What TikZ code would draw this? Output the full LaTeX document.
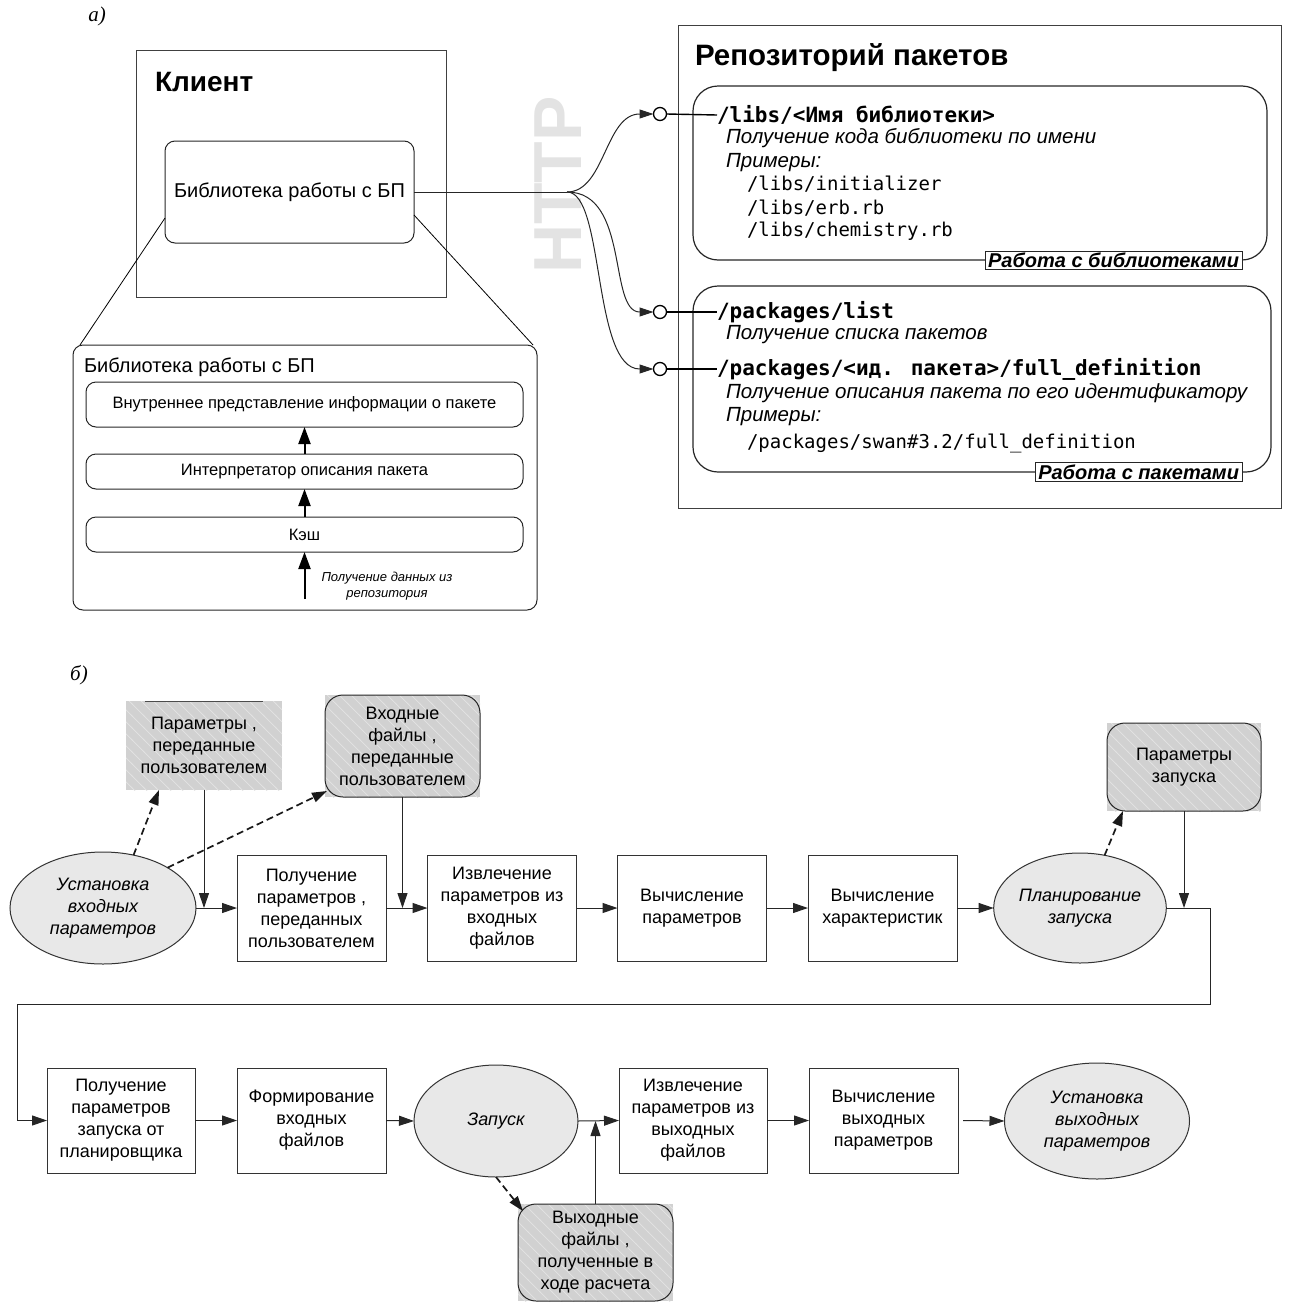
\documentclass[tikz,border=0pt]{standalone}
\usepackage{fontspec}
\setmainfont{Liberation Sans}
\newfontfamily\monofnt{DejaVu Sans Mono}
\newfontfamily\seriffnt{Liberation Serif}
\usetikzlibrary{shapes.geometric,arrows.meta,patterns.meta,calc}
\tikzdeclarepattern{
  name=hatchw,
  type=uncolored,
  bounding box={(-1pt,-1pt) and (13pt,13pt)},
  tile size={(12pt,12pt)},
  code={\draw[line width=0.7pt] (-1pt,13pt) -- (13pt,-1pt);}
}
\begin{document}
\begin{tikzpicture}[x=1pt,y=-1pt,
  every node/.style={inner sep=0pt, outer sep=0pt},
  tip/.style={-{Triangle[length=15pt,width=10pt]}},
  ctip/.style={-{Triangle[length=14pt,width=9pt]}},
  bigtip/.style={-{Triangle[length=17pt,width=12pt]}},
  conn/.style={line width=1pt, draw=black!85},
  dashline/.style={line width=1.7pt, draw=black!90, dash pattern=on 7pt off 4pt},
  frame/.style={draw=black!75, line width=1pt},
  pbox/.style={draw=black!80, line width=1pt, minimum width=149pt, minimum height=106pt, align=center, font=\fontsize{18}{22}\selectfont},
  ell/.style={ellipse, draw=black!80, line width=1pt, fill=black!9, align=center, font=\fontsize{18}{22}\selectfont\itshape},
  hatchbg/.style={preaction={fill=black!18}, pattern=hatchw, pattern color=black!11, align=center, font=\fontsize{18}{22}\selectfont},
  layer/.style={draw=black!85, line width=1pt, rounded corners=10pt, minimum width=437pt, align=center, font=\fontsize{16.5}{19}\selectfont},
  grp/.style={draw=black!85, line width=1.2pt, rounded corners=25pt},
  grplabel/.style={draw=black!85, line width=1pt, fill=white, inner xsep=3pt, inner ysep=2pt, font=\fontsize{20}{22}\selectfont\bfseries\itshape},
  bmono/.style={anchor=west, font=\fontsize{21}{24}\selectfont\monofnt\bfseries},
  rmono/.style={anchor=west, font=\fontsize{19}{22}\selectfont\monofnt},
  desc/.style={anchor=west, font=\fontsize{20.5}{22}\selectfont\itshape}
]
\useasboundingbox (0,0) rectangle (1299,1304);

% ---------------- part a ----------------
\node[font=\fontsize{21}{24}\selectfont\seriffnt\itshape] (la) at (97,16) {а)};

\node[frame, minimum width=310pt, minimum height=247pt] (client) at (291,173.5) {};
\node[anchor=west, font=\fontsize{28}{30}\selectfont\bfseries] (clientt) at (155,82) {Клиент};
\node[draw=black!85, line width=1pt, rounded corners=10pt, minimum width=249pt, minimum height=102pt, font=\fontsize{20}{22}\selectfont] (lib) at (289.5,192) {Библиотека работы с БП};

% HTTP
\node[text=black!11, font=\fontsize{68}{68}\selectfont\bfseries, rotate=90] (http) at (558,185) {HTTP};

% detail box
\node[draw=black!85, line width=1pt, rounded corners=10pt, minimum width=464pt, minimum height=265pt] (det) at (305,477.5) {};
\draw[line width=0.8pt] ([yshift=-26pt]lib.west) -- ([xshift=7pt]det.north west);
\draw[line width=0.8pt] ([yshift=-23pt]lib.east) -- ([xshift=-4pt]det.north east);
\node[anchor=west, font=\fontsize{20}{22}\selectfont] (dett) at (84,367) {Библиотека работы с БП};
\node[layer, minimum height=45pt] (l1) at (304.5,404.5) {Внутреннее представление информации о пакете};
\node[layer, minimum height=35pt] (l2) at (304.5,471.5) {Интерпретатор описания пакета};
\node[layer, minimum height=35pt] (l3) at (304.5,534.5) {Кэш};
\draw[line width=2pt, bigtip] (l2.north) -- (l1.south);
\draw[line width=2pt, bigtip] (l3.north) -- (l2.south);
\coordinate (src) at (304.5,599);
\draw[line width=2pt, bigtip] (src) -- (l3.south);
\node[align=center, font=\fontsize{13}{16}\selectfont\itshape] (srct) at (387,586) {Получение данных из\\репозитория};

% repository
\node[frame, minimum width=603pt, minimum height=483pt] (repo) at (979.5,266.5) {};
\node[anchor=west, font=\fontsize{29.5}{32}\selectfont\bfseries] (repot) at (695,58) {Репозиторий пакетов};
\node[grp, minimum width=574pt, minimum height=174pt] (glib) at (980,173) {};
\node[grp, minimum width=578pt, minimum height=186pt] (gpkg) at (982,379) {};
\node[grplabel, anchor=east] (glibl) at (1242,260.5) {Работа с библиотеками};
\node[grplabel, anchor=east] (gpkgl) at (1242,472) {Работа с пакетами};

\node[bmono] (t1) at (717,115) {/libs/<Имя библиотеки>};
\node[desc] (t1a) at (726,138) {Получение кода библиотеки по имени};
\node[desc] (t1b) at (726,163) {Примеры:};
\node[rmono] (t1c) at (747,184) {/libs/initializer};
\node[rmono] (t1d) at (747,208) {/libs/erb.rb};
\node[rmono] (t1e) at (747,231) {/libs/chemistry.rb};

\node[bmono] (t2) at (717,312) {/packages/list};
\node[desc] (t2a) at (726,335) {Получение списка пакетов};
\node[bmono] (t3) at (717,369) {/packages/<ид. пакета>/full\_definition};
\node[desc] (t3a) at (726,393) {Получение описания пакета по его идентификатору};
\node[desc] (t3b) at (726,417) {Примеры:};
\node[rmono] (t3c) at (747,443) {/packages/swan\#3.2/full\_definition};

% interface circles
\node[circle, draw=black, fill=white, line width=1.3pt, minimum size=13pt] (c1) at (660,114) {};
\node[circle, draw=black, fill=white, line width=1.3pt, minimum size=13pt] (c2) at (660,312) {};
\node[circle, draw=black, fill=white, line width=1.3pt, minimum size=13pt] (c3) at (660,369) {};
\draw[line width=1.4pt] (c1.east) -- (t1.west);
\draw[line width=1.4pt] (c2.east) -- (t2.west);
\draw[line width=1.4pt] (c3.east) -- (t3.west);

\coordinate (br) at (567,192);
\draw[conn] (lib.east) -- (br);
\draw[conn, ctip] (br) .. controls (605,192) and (605,114) .. (c1.west);
\draw[conn, ctip] (br) .. controls (630,192) and (608,312) .. (c2.west);
\draw[conn, ctip] (br) .. controls (605,192) and (592,369) .. (c3.west);

% ---------------- part b ----------------
\node[font=\fontsize{21}{24}\selectfont\seriffnt\itshape] (lb) at (79,675) {б)};

% data boxes
\node[hatchbg, minimum width=156pt, minimum height=89pt] (d1) at (204,745.5) {Параметры ,\\переданные\\пользователем};
\draw[line width=0.8pt, black!70] ([xshift=19pt]d1.north west) -- ([xshift=-19pt]d1.north east);
\node[hatchbg, minimum width=155pt, minimum height=102pt] (d2) at (402.5,746) {Входные\\файлы ,\\переданные\\пользователем};
\draw[frame, draw=black!85, rounded corners=18pt] (d2.south west) rectangle (d2.north east);
\node[hatchbg, minimum width=154pt, minimum height=88pt] (d3) at (1184,767) {Параметры\\запуска};
\draw[frame, draw=black!85, rounded corners=18pt] (d3.south west) rectangle (d3.north east);
\node[hatchbg, minimum width=155pt, minimum height=97pt] (d4) at (595.5,1252.5) {Выходные\\файлы ,\\полученные в\\ходе расчета};
\draw[frame, draw=black!85, rounded corners=18pt] (d4.south west) rectangle (d4.north east);

% row 1
\node[ell, minimum width=186pt, minimum height=112pt] (e1) at (103,908) {Установка\\входных\\параметров};
\node[pbox] (p1) at (311.5,908) {Получение\\параметров ,\\переданных\\пользователем};
\node[pbox] (p2) at (502,908) {Извлечение\\параметров из\\входных\\файлов};
\node[pbox] (p3) at (692,908) {Вычисление\\параметров};
\node[pbox] (p4) at (882.5,908) {Вычисление\\характеристик};
\node[ell, minimum width=164pt, minimum height=110pt] (e2) at (1080,908) {Планирование\\запуска};

% row 2
\node[pbox, minimum width=148pt, minimum height=105pt] (q1) at (121,1120.5) {Получение\\параметров\\запуска от\\планировщика};
\node[pbox, minimum height=105pt] (q2) at (311.5,1120.5) {Формирование\\входных\\файлов};
\node[ell, minimum width=164pt, minimum height=112pt] (e3) at (496,1121) {Запуск};
\node[pbox, minimum width=148pt, minimum height=105pt] (q3) at (693,1120.5) {Извлечение\\параметров из\\выходных\\файлов};
\node[pbox, minimum height=105pt] (q4) at (883.5,1120.5) {Вычисление\\выходных\\параметров};
\node[ell, minimum width=185pt, minimum height=116pt] (e4) at (1097,1121) {Установка\\выходных\\параметров};

% connectors row 1
\draw[conn, tip] (e1.east) -- (p1.west);
\draw[conn, tip] (d1.south) -- (d1.south |- e1.east);
\draw[conn, tip] (p1.east) -- (p2.west);
\draw[conn, tip] (d2.south) -- (d2.south |- p1.east);
\draw[conn, tip] (p2.east) -- (p3.west);
\draw[conn, tip] (p3.east) -- (p4.west);
\draw[conn, tip] (p4.east) -- (e2.west);
\draw[conn, tip] (d3.south) -- (d3.south |- e2.east);
\coordinate (r1) at (1210,1004);
\coordinate (r2) at (17,1004);
\draw[conn, tip] (e2.east) -| (r1) -- (r2) |- (q1.west);

% connectors row 2
\draw[conn, tip] (q1.east) -- (q2.west);
\draw[conn, tip] (q2.east) -- (e3.west);
\draw[conn, tip] (e3.east) -- (q3.west);
\draw[conn, tip] (d4.north) -- (d4.north |- e3.east);
\draw[conn, tip] (q3.east) -- (q4.west);
\draw[conn, tip] ([xshift=5pt]q4.east) -- (e4.west);

% dashed
\draw[dashline, tip] (e1.60) -- ([xshift=33pt]d1.south west);
\draw[dashline, tip] (e1.32) -- ([xshift=2pt,yshift=6pt]d2.south west);
\draw[dashline, tip] (e2.65) -- ([xshift=16pt]d3.south west);
\draw[dashline, tip] (e3.south) -- ([xshift=5pt,yshift=-7pt]d4.north west);
\end{tikzpicture}
\end{document}
